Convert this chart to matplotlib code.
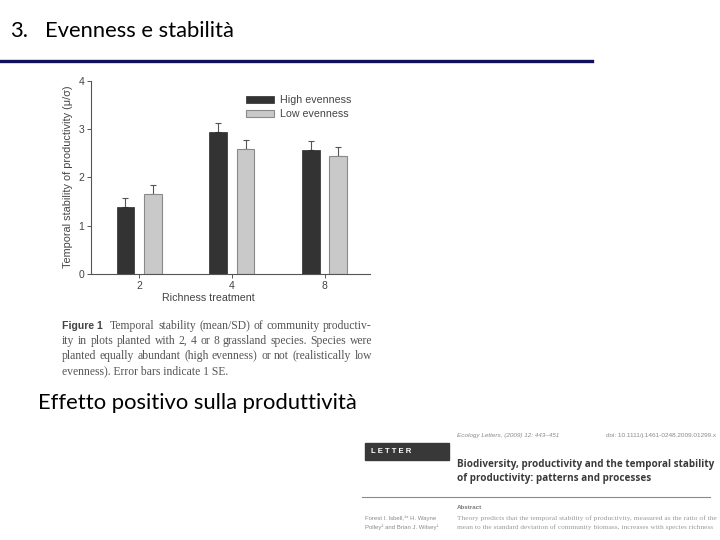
import matplotlib
matplotlib.use("Agg")
import matplotlib.pyplot as plt
from matplotlib.patches import Rectangle
from matplotlib.lines import Line2D

# data
richness = ["2", "4", "8"]
high_even = [1.39, 2.93, 2.56]
low_even = [1.65, 2.58, 2.44]
high_se = [0.19, 0.19, 0.19]
low_se = [0.19, 0.19, 0.18]

caption_lines = [
    "Temporal stability (mean/SD) of community productiv-",
    "ity in plots planted with 2, 4 or 8 grassland species. Species were",
    "planted equally abundant (high evenness) or not (realistically low",
    "evenness). Error bars indicate 1 SE.",
]
paper_title = ["Biodiversity, productivity and the temporal stability",
               "of productivity: patterns and processes"]
abstract_lines = [
    "Theory predicts that the temporal stability of productivity, measured as the ratio of the",
    "mean to the standard deviation of community biomass, increases with species richness",
]
authors = ["Forest I. Isbell,\u00b9* H. Wayne", "Polley\u00b2 and Brian J. Wilsey\u00b9"]

W, H = 720, 540
fig = plt.figure(figsize=(7.2, 5.4), dpi=100)
fig.patch.set_facecolor("white")
rend = fig.canvas.get_renderer()


def fx(px):
    return px / W


def fy(py):
    return 1 - py / H


def justify(x0, x1, y, line, **kw):
    # spread the words of one line so it fills x0..x1 (pixels)
    words = line.split()
    ts = [fig.text(0, fy(y), w, va="center", **kw) for w in words]
    widths = [t.get_window_extent(rend).width for t in ts]
    gap = (x1 - x0 - sum(widths)) / max(len(words) - 1, 1)
    xx = x0
    for t, w in zip(ts, widths):
        t.set_x(fx(xx))
        xx += w + gap


def fit(x0, x1, y, line, size, **kw):
    # shrink/grow font so the line spans x0..x1
    t = fig.text(fx(x0), fy(y), line, va="center", fontsize=size, **kw)
    w = t.get_window_extent(rend).width
    t.set_fontsize(size * (x1 - x0) / w)
    return t


# slide title + rule
fig.text(fx(10), fy(31), "3.", fontsize=15.8, family="Lato", va="center", color="black")
fig.text(fx(45), fy(31), "Evenness e stabilità", fontsize=15.8, family="Lato",
         va="center", color="black")
fig.add_artist(Line2D([0, fx(592)], [fy(60.5), fy(60.5)], color="#10105a", lw=2.4))

# chart
ax = fig.add_axes([fx(91), fy(274), fx(370) - fx(91), (274 - 80.7) / H])
x = range(len(richness))
off, bw = 0.148, 0.19
xs_h = [i - off for i in x]
xs_l = [i + off for i in x]
ax.bar(xs_h, high_even, width=bw, color="#333333", edgecolor="#2a2a2a", lw=0.5,
       label="High evenness", zorder=2)
ax.bar(xs_l, low_even, width=bw, color="#c9c9c9", edgecolor="#8a8a8a", lw=0.8,
       label="Low evenness", zorder=2)
ax.errorbar(xs_h, high_even, yerr=[[0] * 3, high_se], fmt="none", ecolor="#555555",
            elinewidth=0.8, capsize=2, capthick=0.8, zorder=1)
ax.errorbar(xs_l, low_even, yerr=[[0] * 3, low_se], fmt="none", ecolor="#555555",
            elinewidth=0.8, capsize=2, capthick=0.8, zorder=1)

ax.set_xlim(-0.52, 2.49)
ax.set_ylim(0, 4)
ax.set_xticks(list(x))
ax.set_xticklabels(richness)
ax.set_yticks([0, 1, 2, 3, 4])
for s in ["top", "right"]:
    ax.spines[s].set_visible(False)
for s in ["left", "bottom"]:
    ax.spines[s].set_color("#555555")
    ax.spines[s].set_linewidth(0.8)
ax.tick_params(length=3, width=0.7, color="#555555", labelsize=7.5, labelcolor="#444444", pad=2)
for lab in ax.get_xticklabels() + ax.get_yticklabels():
    lab.set_family("Liberation Sans")
ax.set_ylabel("Temporal stability of productivity (\u03bc/\u03c3)", fontsize=7.8,
              family="Liberation Sans", color="#444444")
ax.set_xlabel("Richness treatment", fontsize=7.7, family="Liberation Sans", color="#444444")
ax.yaxis.set_label_coords(-0.065, 0.503)
ax.xaxis.set_label_coords(0.419, -0.1)
ax.set_facecolor("none")

leg = ax.legend(loc="upper left", bbox_to_anchor=(0.555, 0.925), frameon=False,
                prop={"family": "Liberation Sans", "size": 7.7}, handlelength=2.6,
                handleheight=0.65, handletextpad=0.55, labelspacing=0.35,
                borderpad=0, borderaxespad=0)
for t in leg.get_texts():
    t.set_color("#444444")

# figure caption (justified like the journal page)
cap_y = [326, 341.2, 356.4, 371.5]
fig.text(fx(62), fy(cap_y[0]), "Figure 1", fontsize=7.6, family="Liberation Sans",
         weight="bold", va="center", color="#444444")
cap_kw = dict(fontsize=8.4, family="Liberation Serif", color="#555555")
justify(110, 372, cap_y[0], caption_lines[0], **cap_kw)
justify(62, 372, cap_y[1], caption_lines[1], **cap_kw)
justify(62, 372, cap_y[2], caption_lines[2], **cap_kw)
fig.text(fx(62), fy(cap_y[3]), caption_lines[3], va="center", **cap_kw)

# bullet text
fig.text(fx(38), fy(403), "Effetto positivo sulla produttività", fontsize=15.8,
         family="Lato", va="center", color="black")

# paper header snippet
fig.text(fx(457), fy(436), "Ecology Letters, (2009) 12: 443\u2013451", fontsize=4.6,
         family="Liberation Sans", style="italic", va="center", color="#8a8a8a")
fig.text(fx(716), fy(436), "doi: 10.1111/j.1461-0248.2009.01299.x", fontsize=4.6,
         family="Liberation Sans", ha="right", va="center", color="#8a8a8a")
fig.add_artist(Rectangle((fx(365), fy(459.7)), fx(449) - fx(365), (459.7 - 443) / H,
                         color="#383838", transform=fig.transFigure))
fit(371, 412, 451.5, "L E T T E R", 6, family="Liberation Sans", color="white",
    weight="bold")
title_kw = dict(family="Open Sans", weight="bold", color="#3a3a3a")
t1 = fit(457, 713, 464, paper_title[0], 8, **title_kw)
fig.text(fx(457), fy(478), paper_title[1], va="center", fontsize=t1.get_fontsize(),
         **title_kw)
fig.add_artist(Line2D([fx(362), fx(710)], [fy(497), fy(497)], color="#8a8a8a", lw=0.8))
fig.text(fx(457), fy(507.5), "Abstract", fontsize=4.5, family="Liberation Sans",
         weight="bold", va="center", color="#7a7a7a")
for yy, line in zip([518, 527], authors):
    fig.text(fx(365), fy(yy), line, fontsize=4.3, family="Liberation Sans",
             va="center", color="#8a8a8a")
ab_kw = dict(family="Liberation Serif", color="#9a9a9a")
fit(457, 716, 518, abstract_lines[0], 5.3, **ab_kw)
fit(457, 714, 527, abstract_lines[1], 5.3, **ab_kw)

fig.savefig("out.png", dpi=100)
